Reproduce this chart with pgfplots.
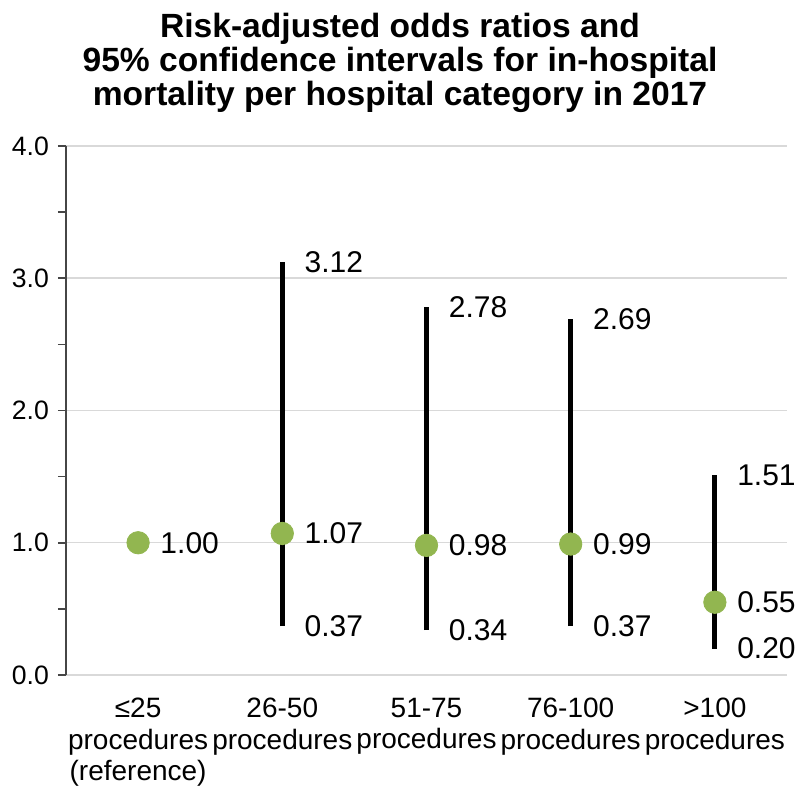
\documentclass[border=0pt]{standalone}
\usepackage{pgfplots}
\pgfplotsset{compat=1.18}
\usepackage{fontspec}
\setmainfont{Liberation Sans}
\definecolor{ptgreen}{RGB}{146,182,80}
\definecolor{gridgray}{RGB}{217,217,217}
\definecolor{axgray}{RGB}{70,70,70}
\pgfplotsset{
  vallabel/.style={
    nodes near coords={\pgfmathprintnumber[fixed,fixed zerofill,precision=2,assume math mode=true]{\pgfplotspointmeta}},
    point meta=y,
    nodes near coords style={anchor=west, inner sep=0pt, xshift=11pt, yshift=0pt, text=black, font=\fontsize{15}{18}\selectfont},
  }
}
\begin{document}
\begin{tikzpicture}
\useasboundingbox (0,0) rectangle (400pt,396pt);
\begin{axis}[
  at={(33pt,58.5pt)}, anchor=south west,
  scale only axis, width=360.5pt, height=264.5pt,
  xmin=-0.5, xmax=4.5, ymin=0, ymax=4,
  axis lines*=left,
  x axis line style={draw=none},
  y axis line style={draw=axgray, line width=0.8pt},
  xtick={0,1,2,3,4},
  xticklabels={{≤25\\procedures\\(reference)},{26-50\\procedures},{51-75\\procedures},{76-100\\procedures},{>100\\procedures}},
  xtick style={draw=none},
  xticklabel style={align=center, font=\fontsize{14}{15.7}\selectfont, yshift=-4pt},
  ytick={0,1,2,3,4},
  minor ytick={0.5,1.5,2.5,3.5},
  tick align=outside,
  major tick length=4pt, minor tick length=4pt,
  ytick style={draw=axgray, line width=0.8pt},
  yticklabel style={font=\fontsize{13.3}{15}\selectfont, xshift=-1pt, /pgf/number format/.cd, fixed, fixed zerofill, precision=1, assume math mode=true},
  ymajorgrids, grid style={gridgray, line width=0.75pt},
  title={Risk-adjusted odds ratios and\\95\% confidence intervals for in-hospital\\mortality per hospital category in 2017},
  title style={align=center, font=\bfseries\fontsize{16.8}{17}\selectfont, anchor=center, at={(axis description cs:0.5,1)}, xshift=-13.25pt, yshift=35.5pt},
  clip=false,
]
\addplot[black, line width=2.6pt] coordinates {(1,0.37) (1,3.12)};
\addplot[black, line width=2.6pt] coordinates {(2,0.34) (2,2.78)};
\addplot[black, line width=2.6pt] coordinates {(3,0.37) (3,2.69)};
\addplot[black, line width=2.6pt] coordinates {(4,0.20) (4,1.51)};
\addplot[only marks, color=ptgreen, mark=*, mark size=5.6pt, mark options={solid, color=ptgreen, fill=ptgreen}, vallabel]
  coordinates {(0,1.00) (1,1.07) (2,0.98) (3,0.99) (4,0.55)};
\addplot[only marks, mark=none, vallabel]
  coordinates {(1,3.12) (2,2.78) (3,2.69) (4,1.51) (1,0.37) (2,0.34) (3,0.37) (4,0.20)};
\end{axis}
\end{tikzpicture}
\end{document}
